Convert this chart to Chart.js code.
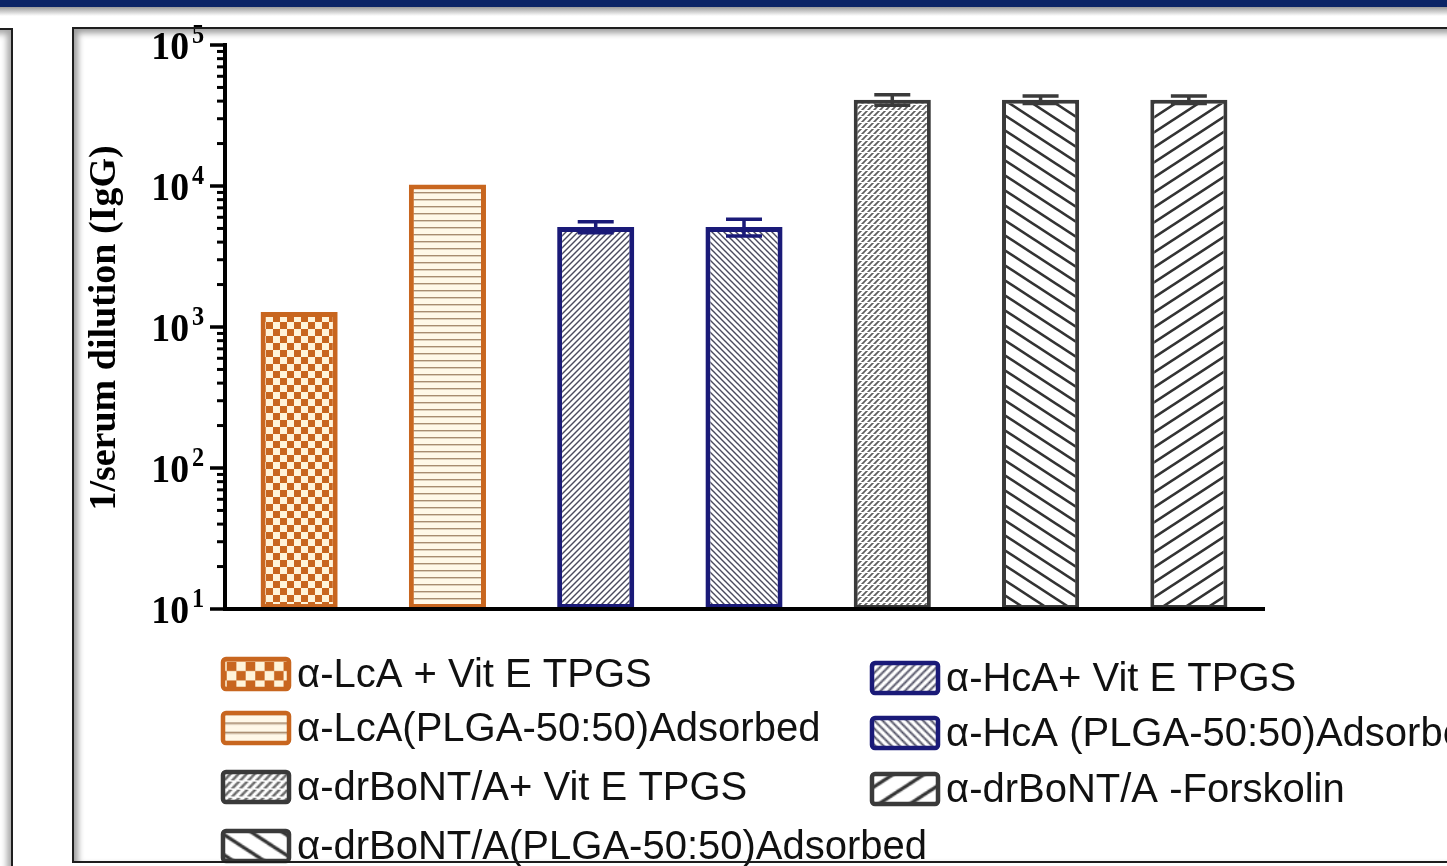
<!DOCTYPE html>
<html>
<head>
<meta charset="utf-8">
<script src="https://cdn.jsdelivr.net/npm/chart.js@4.4.1/dist/chart.umd.min.js"></script>
<style>
  html, body { margin: 0; padding: 0; background: #fff; overflow: hidden; }
  #page { position: relative; width: 1447px; height: 866px; overflow: hidden; background: #fff; }
  #topbar { position: absolute; left: 0; top: 0; width: 1447px; height: 7px; background: #0b2466; z-index: 3; }
  #topshade { position: absolute; left: 0; top: 7px; width: 1447px; height: 9px; background: linear-gradient(#9a9a9a, #ffffff); z-index: 3; }
  #sidepanel { position: absolute; left: -20px; top: 28px; width: 29px; height: 860px; border: 2px solid #1e1e1e;
               box-shadow: inset -4px 4px 6px rgba(0,0,0,0.35); z-index: 3; }
  #frame { position: absolute; left: 72px; top: 27px; width: 1420px; height: 832px; border: 2px solid #1e1e1e;
           box-shadow: inset 4px 4px 6px rgba(0,0,0,0.4); pointer-events: none; z-index: 3; }
  #chart { position: absolute; left: 0; top: 0; z-index: 1; }
</style>
</head>
<body>
<div id="page">
  <canvas id="chart" width="1447" height="866"></canvas>
  <div id="topbar"></div>
  <div id="topshade"></div>
  <div id="sidepanel"></div>
  <div id="frame"></div>
</div>
<script>
// Immunisation groups (one bar each, legend order follows the bars)
const categories = [
  'α-LcA + Vit E TPGS',
  'α-LcA(PLGA-50:50)Adsorbed',
  'α-HcA+ Vit E TPGS',
  'α-HcA (PLGA-50:50)Adsorbed',
  'α-drBoNT/A+ Vit E TPGS',
  'α-drBoNT/A(PLGA-50:50)Adsorbed',
  'α-drBoNT/A -Forskolin'
];
// Reciprocal serum dilution (IgG end-point titre) and its spread
const titers   = [1280, 10240, 5120, 5120, 40960, 40960, 40960];
const titerSD  = [0, 0, 450, 700, 3500, 2500, 2500];

// Y axis: decades with superscript exponents
const yTickValues    = [10, 100, 1000, 10000, 100000];
const yTickBase      = '10';
const yTickExponents = ['1', '2', '3', '4', '5'];
const yAxisTitle     = '1/serum dilution (IgG)';

const ORANGE = '#C8661F';
const NAVY   = '#1A1A78';
const GREY   = '#3A3A3A';

const canvas = document.getElementById('chart');
const ctx = canvas.getContext('2d');

function makePattern(w, h, paint, scale) {
  const c = document.createElement('canvas');
  c.width = w; c.height = h;
  const g = c.getContext('2d');
  paint(g, w, h);
  const p = ctx.createPattern(c, 'repeat');
  if (scale && scale !== 1 && p.setTransform) p.setTransform(new DOMMatrix().scale(scale));
  return p;
}
function hatch(g, w, h, rising, color, width) {
  g.strokeStyle = color; g.lineWidth = width; g.lineCap = 'square';
  for (let k = -1; k <= 1; k++) {
    g.beginPath();
    if (rising) { g.moveTo(-w, 2 * h + k * h); g.lineTo(2 * w, -h + k * h); }
    else        { g.moveTo(-w, -h + k * h);    g.lineTo(2 * w, 2 * h + k * h); }
    g.stroke();
  }
}

// Fill textures for the seven groups (scale > 1 gives the coarser legend keys)
function makeFills(s) {
  return [
    makePattern(14, 14, (g) => {            // checkerboard
      g.fillStyle = '#FFF4DA'; g.fillRect(0, 0, 14, 14);
      g.fillStyle = ORANGE; g.fillRect(0, 0, 7, 7); g.fillRect(7, 7, 7, 7);
    }, s),
    makePattern(8, 7, (g) => {              // horizontal rules
      g.fillStyle = '#FFF8E8'; g.fillRect(0, 0, 8, 7);
      g.fillStyle = '#A88C70'; g.fillRect(0, 3, 8, 1.4);
    }, s),
    makePattern(6, 6, (g, w, h) => {        // fine rising hatch
      g.fillStyle = '#FFFFFF'; g.fillRect(0, 0, w, h);
      hatch(g, w, h, true, '#4A4A5E', 1.4);
    }, s),
    makePattern(6, 6, (g, w, h) => {        // fine falling hatch
      g.fillStyle = '#FFFFFF'; g.fillRect(0, 0, w, h);
      hatch(g, w, h, false, '#4A4A5E', 1.4);
    }, s),
    makePattern(6, 6, (g, w, h) => {        // woven: rising dashes broken by white rows
      g.fillStyle = '#FFFFFF'; g.fillRect(0, 0, w, h);
      hatch(g, w, h, true, '#5E5E5E', 1.7);
      g.fillStyle = '#FFFFFF'; g.fillRect(0, 2, w, 1);
    }, s),
    makePattern(23, 15, (g, w, h) => {      // coarse falling hatch
      g.fillStyle = '#FFFFFF'; g.fillRect(0, 0, w, h);
      hatch(g, w, h, false, '#333333', 2.6);
    }, s),
    makePattern(23, 15, (g, w, h) => {      // coarse rising hatch
      g.fillStyle = '#FFFFFF'; g.fillRect(0, 0, w, h);
      hatch(g, w, h, true, '#333333', 2.6);
    }, s)
  ];
}
const fills = makeFills(1);
const keyFills = makeFills(1.35);
const edges  = [ORANGE, ORANGE, NAVY, NAVY, GREY, GREY, GREY];
const widths = [5, 5, 5, 5, 4, 4, 4];

// Log axis with outward major/minor ticks and superscript decade labels
const logAxisPlugin = {
  id: 'logAxis',
  afterDatasetsDraw(chart) {
    const c = chart.ctx, y = chart.scales.y, a = chart.chartArea;
    c.save();
    c.strokeStyle = '#000';
    c.lineWidth = 4;
    c.beginPath(); c.moveTo(a.left, a.top - 2); c.lineTo(a.left, a.bottom + 2); c.stroke();
    c.beginPath(); c.moveTo(a.left - 2, a.bottom); c.lineTo(a.right + 2, a.bottom); c.stroke();

    const eMin = Math.round(Math.log10(y.min)), eMax = Math.round(Math.log10(y.max));
    for (let e = eMin; e <= eMax; e++) {
      for (let m = 1; m <= 9; m++) {
        const v = m * Math.pow(10, e);
        if (v > y.max) break;
        const py = y.getPixelForValue(v);
        const len = m === 1 ? 15 : 8;
        c.lineWidth = m === 1 ? 3.5 : 3;
        c.beginPath(); c.moveTo(a.left - len, py); c.lineTo(a.left, py); c.stroke();
      }
    }

    c.fillStyle = '#000';
    yTickValues.forEach((v, i) => {
      const py = y.getPixelForValue(v);
      c.save();
      c.translate(a.left - 36, py + 14);
      c.scale(0.92, 1);
      c.font = 'bold 41px "Liberation Serif", "Times New Roman", serif';
      c.textAlign = 'right'; c.textBaseline = 'alphabetic';
      c.fillText(yTickBase, 0, 0);
      c.restore();
      c.save();
      c.translate(a.left - 33, py - 2);
      c.scale(0.9, 1);
      c.font = 'bold 27px "Liberation Serif", "Times New Roman", serif';
      c.textAlign = 'left'; c.textBaseline = 'alphabetic';
      c.fillText(yTickExponents[i], 0, 0);
      c.restore();
    });

    c.save();
    c.translate(115, (a.top + a.bottom) / 2 + 1);
    c.rotate(-Math.PI / 2);
    c.font = 'bold 38px "Liberation Serif", "Times New Roman", serif';
    c.textAlign = 'center'; c.textBaseline = 'alphabetic';
    c.fillText(yAxisTitle, 0, 0);
    c.restore();
    c.restore();
  }
};

// Mean ± spread whiskers on top of the bars
const errorBarPlugin = {
  id: 'errorBars',
  afterDatasetsDraw(chart) {
    const c = chart.ctx, y = chart.scales.y;
    const meta = chart.getDatasetMeta(0);
    c.save();
    meta.data.forEach((bar, i) => {
      const sd = titerSD[i];
      if (!sd) return;
      const top = y.getPixelForValue(titers[i] + sd);
      const bot = y.getPixelForValue(titers[i] - sd);
      const half = 18;
      c.strokeStyle = edges[i];
      c.lineWidth = 3.5;
      c.beginPath();
      c.moveTo(bar.x, bot); c.lineTo(bar.x, top);
      c.moveTo(bar.x - half, top); c.lineTo(bar.x + half, top);
      c.moveTo(bar.x - half, bot); c.lineTo(bar.x + half, bot);
      c.stroke();
    });
    c.restore();
  }
};

// Two-column legend under the plot
const legendLayout = {
  font: '40px "Liberation Sans", Arial, sans-serif',
  swatchW: 66, swatchH: 30, gap: 8,
  columns: [
    { x: 223, items: [0, 1, 4, 5], rows: [676, 730, 789, 848] },
    { x: 872, items: [2, 3, 6],    rows: [680, 735, 791] }
  ]
};
const legendPlugin = {
  id: 'twoColumnLegend',
  afterDraw(chart) {
    const c = chart.ctx, L = legendLayout;
    const labels = chart.data.labels;
    const ds = chart.data.datasets[0];
    c.save();
    L.columns.forEach(col => {
      col.items.forEach((idx, r) => {
        const cy = col.rows[r];
        const sx = col.x, sy = cy - L.swatchH / 2 - 2;
        c.beginPath();
        if (c.roundRect) c.roundRect(sx, sy, L.swatchW, L.swatchH, 3); else c.rect(sx, sy, L.swatchW, L.swatchH);
        c.fillStyle = keyFills[idx];
        c.fill();
        c.lineWidth = 4.5;
        c.strokeStyle = ds.borderColor[idx];
        c.stroke();
        c.fillStyle = '#111';
        c.font = L.font;
        c.textAlign = 'left'; c.textBaseline = 'middle';
        c.fillText(labels[idx], sx + L.swatchW + L.gap, cy);
      });
    });
    c.restore();
  }
};

new Chart(ctx, {
  type: 'bar',
  data: {
    labels: categories,
    datasets: [{
      data: titers,
      backgroundColor: fills,
      borderColor: edges,
      borderWidth: widths,
      borderSkipped: false,
      barPercentage: 0.52,
      categoryPercentage: 1
    }]
  },
  options: {
    responsive: false,
    animation: false,
    layout: { padding: { left: 225, right: 184, top: 45, bottom: 257 } },
    scales: {
      x: { display: false },
      y: { type: 'logarithmic', min: 10, max: 100000, display: false }
    },
    plugins: { legend: { display: false }, tooltip: { enabled: false } }
  },
  plugins: [errorBarPlugin, logAxisPlugin, legendPlugin]
});
</script>
</body>
</html>
